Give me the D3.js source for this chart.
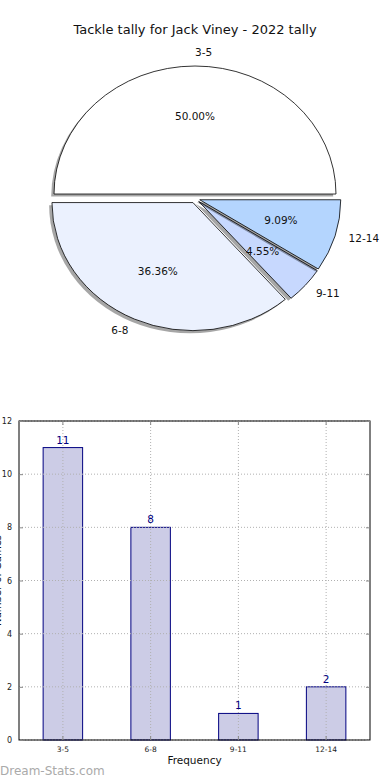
<!DOCTYPE html>
<html>
<head>
<meta charset="utf-8">
<script src="https://cdn.jsdelivr.net/npm/d3@7"></script>
<style>
  body { margin: 0; background: #fff; }
  svg { display: block; font-family: "DejaVu Sans", sans-serif; }
</style>
</head>
<body>
<div id="chart"></div>
<script>
// data
var categories = ["3-5", "6-8", "9-11", "12-14"];
var counts = [11, 8, 1, 2];
var sliceColors = ["#ffffff", "#ebf1fe", "#c7d8fe", "#b4d5fe"];
var yTicks = [0, 2, 4, 6, 8, 10, 12];
var title = "Tackle tally for Jack Viney - 2022 tally";

var W = 390, H = 780;
var svg = d3.select("#chart").append("svg")
  .attr("width", W)
  .attr("height", H);

// ---------------------------//
//       PIE                  //
// ---------------------------//
svg.append("text")
  .attr("x", 195)
  .attr("y", 30)
  .attr("text-anchor", "middle")
  .attr("dominant-baseline", "middle")
  .style("font-size", "13px")
  .style("fill", "#111")
  .text(title);

var cx = 195, cy = 198.5, rx = 141, ry = 128;
var explode = 0.035;
var total = d3.sum(counts);

// matplotlib style: start at 3 o'clock, go counter clockwise
var pie = d3.pie().sort(null)
  .startAngle(Math.PI / 2)
  .endAngle(Math.PI / 2 - 2 * Math.PI);
var arcs = pie(counts);
var arc = d3.arc().innerRadius(0).outerRadius(1);

// mid angle in screen direction (unit ellipse)
function midDir(d) {
  var a = (d.startAngle + d.endAngle) / 2;
  return [Math.sin(a), -Math.cos(a)];
}

var slices = svg.append("g").selectAll("g.slice")
  .data(arcs)
  .enter()
  .append("g")
  .attr("class", "slice");

slices.each(function (d, i) {
  var m = midDir(d);
  var ox = cx + explode * rx * m[0];
  var oy = cy + explode * ry * m[1];
  var g = d3.select(this);
  // shadow
  g.append("path")
    .attr("d", arc(d))
    .attr("transform", "translate(" + (ox - 2.8) + "," + (oy + 2.6) + ") scale(" + rx + "," + ry + ")")
    .style("fill", "#000")
    .style("opacity", 0.35);
  // slice
  g.append("path")
    .attr("d", arc(d))
    .attr("transform", "translate(" + ox + "," + oy + ") scale(" + rx + "," + ry + ")")
    .style("fill", sliceColors[i])
    .style("stroke", "#000")
    .style("stroke-width", 0.8)
    .attr("vector-effect", "non-scaling-stroke");
});

// labels (outside) and percents (inside)
slices.each(function (d, i) {
  var m = midDir(d);
  var ox = cx + explode * rx * m[0];
  var oy = cy + explode * ry * m[1];
  var g = d3.select(this);
  g.append("text")
    .attr("x", ox + 1.1 * rx * m[0])
    .attr("y", oy + 1.1 * ry * m[1])
    .attr("text-anchor", m[0] >= -1e-9 ? "start" : "end")
    .attr("dominant-baseline", "middle")
    .style("font-size", "10.5px")
    .style("fill", "#111")
    .text(categories[i]);
  g.append("text")
    .attr("x", ox + 0.6 * rx * m[0])
    .attr("y", oy + 0.6 * ry * m[1])
    .attr("text-anchor", "middle")
    .attr("dominant-baseline", "middle")
    .style("font-size", "10.5px")
    .style("fill", "#111")
    .text(d3.format(".2f")(counts[i] / total * 100) + "%");
});

// ---------------------------//
//       BAR CHART            //
// ---------------------------//
var pLeft = 19, pRight = 370, pTop = 421, pBottom = 740;

var x = d3.scaleBand()
  .domain(categories)
  .range([pLeft, pRight])
  .paddingInner(0.55)
  .paddingOuter(0.275);

var y = d3.scaleLinear()
  .domain([0, 12])
  .range([pBottom, pTop]);

function drawGrid(parent) {
  var grid = parent.append("g");
  grid.selectAll("line.hg")
    .data(yTicks)
    .enter()
    .append("line")
    .attr("class", "hg")
    .attr("x1", pLeft).attr("x2", pRight)
    .attr("y1", function (d) { return y(d); })
    .attr("y2", function (d) { return y(d); })
    .style("stroke", "#b0b0b0")
    .style("stroke-dasharray", "1,2");
  grid.selectAll("line.vg")
    .data(categories)
    .enter()
    .append("line")
    .attr("class", "vg")
    .attr("x1", function (d) { return x(d) + x.bandwidth() / 2; })
    .attr("x2", function (d) { return x(d) + x.bandwidth() / 2; })
    .attr("y1", pTop).attr("y2", pBottom)
    .style("stroke", "#b0b0b0")
    .style("stroke-dasharray", "1,2");
}

// bars
svg.append("g").selectAll("rect")
  .data(counts)
  .enter()
  .append("rect")
  .attr("x", function (d, i) { return x(categories[i]); })
  .attr("y", function (d) { return y(d); })
  .attr("width", x.bandwidth())
  .attr("height", function (d) { return pBottom - y(d); })
  .style("fill", "#cccce6")
  .style("stroke", "#000080")
  .style("stroke-width", 1);

// grid on top of bars (matplotlib draws it over)
drawGrid(svg);

// value labels
svg.append("g").selectAll("text")
  .data(counts)
  .enter()
  .append("text")
  .attr("x", function (d, i) { return x(categories[i]) + x.bandwidth() / 2; })
  .attr("y", function (d) { return y(d) - 4; })
  .attr("text-anchor", "middle")
  .style("font-size", "10.5px")
  .style("fill", "#000080")
  .text(function (d) { return d; });

// axes box
svg.append("rect")
  .attr("x", pLeft).attr("y", pTop)
  .attr("width", pRight - pLeft).attr("height", pBottom - pTop)
  .style("fill", "none")
  .style("stroke", "#000")
  .style("stroke-width", 1);

// y axis
var yAxis = svg.append("g")
  .attr("transform", "translate(" + pLeft + ",0)")
  .call(d3.axisLeft(y).tickValues(yTicks).tickSize(-4).tickPadding(7));
yAxis.select(".domain").remove();
yAxis.selectAll("text").style("font-size", "8px").style("fill", "#222").style("font-family", "DejaVu Sans, sans-serif");
yAxis.selectAll("line").style("stroke", "#888");

var yAxisR = svg.append("g")
  .attr("transform", "translate(" + pRight + ",0)")
  .call(d3.axisRight(y).tickValues(yTicks).tickSize(-4).tickFormat(""));
yAxisR.select(".domain").remove();
yAxisR.selectAll("line").style("stroke", "#888");

// x axis
var xAxis = svg.append("g")
  .attr("transform", "translate(0," + pBottom + ")")
  .call(d3.axisBottom(x).tickSize(-4).tickPadding(7));
xAxis.select(".domain").remove();
xAxis.selectAll("text").style("font-size", "7.5px").style("fill", "#222").style("font-family", "DejaVu Sans, sans-serif");
xAxis.selectAll("line").style("stroke", "#888");

var xAxisT = svg.append("g")
  .attr("transform", "translate(0," + pTop + ")")
  .call(d3.axisTop(x).tickSize(-4).tickFormat(""));
xAxisT.select(".domain").remove();
xAxisT.selectAll("line").style("stroke", "#888");

// axis labels
svg.append("text")
  .attr("x", (pLeft + pRight) / 2)
  .attr("y", 764)
  .attr("text-anchor", "middle")
  .style("font-size", "10.5px")
  .style("fill", "#111")
  .text("Frequency");

// y label sits mostly outside the picture, as in the original
svg.append("text")
  .attr("transform", "translate(0.5," + ((pTop + pBottom) / 2) + ") rotate(-90)")
  .attr("text-anchor", "middle")
  .style("font-size", "10px")
  .style("fill", "#111")
  .text("Number of Games");

// watermark
svg.append("text")
  .attr("x", 0)
  .attr("y", 775)
  .style("font-size", "12px")
  .style("fill", "#aaa")
  .text("Dream-Stats.com");
</script>
</body>
</html>
